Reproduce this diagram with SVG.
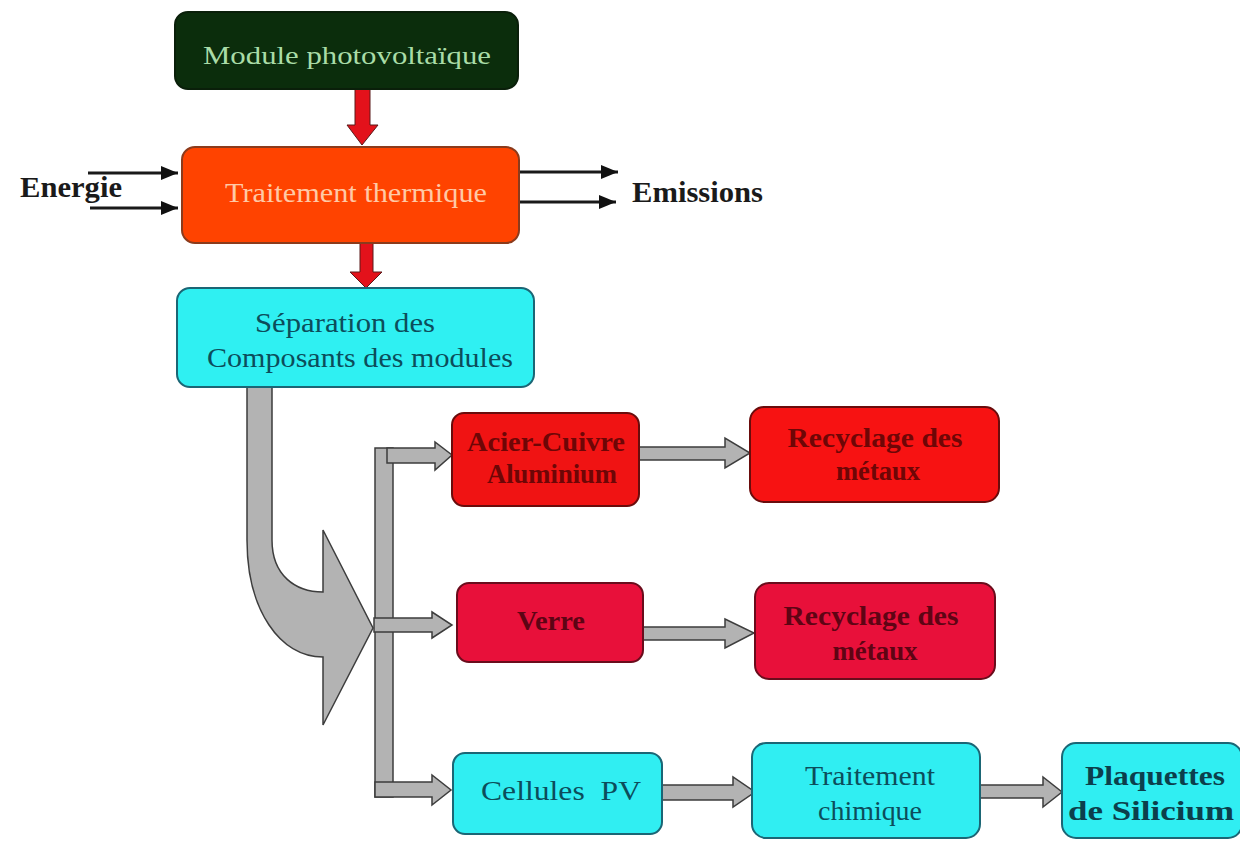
<svg xmlns="http://www.w3.org/2000/svg" width="1240" height="841" viewBox="0 0 1240 841">
<style>
.box{stroke-width:2}
.t{font-family:"Liberation Serif","Times New Roman",serif;text-anchor:middle}
.b{font-weight:bold}
.gray{fill:#b3b3b3;stroke:#3d3d3d;stroke-width:1.5;stroke-linejoin:miter}
.redarr{fill:#e3121b;stroke:#5a1a1a;stroke-width:1}
.blk{stroke:#1a1a1a;stroke-width:3;fill:none}
</style>
<defs>
<marker id="ah" markerUnits="userSpaceOnUse" markerWidth="18" markerHeight="16" refX="17" refY="8" orient="auto">
<path d="M0,1 L17,8 L0,15 Z" fill="#111"/>
</marker>
</defs>
<rect width="1240" height="841" fill="#ffffff"/>

<g id="connectors">
<polygon class="redarr" points="355,89 370,89 370,125 378,125 362,145 347,125 355,125"/>
<polygon class="redarr" points="360,243 373,243 373,272 382,272 366,288 350,272 360,272"/>
<line class="blk" x1="88" y1="173" x2="178" y2="173" marker-end="url(#ah)"/>
<line class="blk" x1="90" y1="208" x2="178" y2="208" marker-end="url(#ah)"/>
<line class="blk" x1="519" y1="172" x2="618" y2="172" marker-end="url(#ah)"/>
<line class="blk" x1="519" y1="202" x2="616" y2="202" marker-end="url(#ah)"/>
<path class="gray" d="M247,387 L247,540 C247,610 280,657 323,657 L323,725 L373,628 L323,530 L323,592 C295,592 272,575 272,540 L272,387 Z"/>
<rect class="gray" x="375" y="448" width="18" height="349"/>
<polygon class="gray" points="387,448 435,448 435,442 452,455 435,470 435,463 387,463"/>
<polygon class="gray" points="374,618 432,618 432,612 452,625 432,638 432,632 374,632"/>
<polygon class="gray" points="375,782 432,782 432,775 451,790 432,805 432,797 375,797"/>
<polygon class="gray" points="639,447 725,447 725,438 750,453 725,468 725,460 639,460"/>
<polygon class="gray" points="643,627 725,627 725,619 754,633 725,648 725,640 643,640"/>
<polygon class="gray" points="662,785 733,785 733,777 755,792 733,807 733,800 662,800"/>
<polygon class="gray" points="980,785 1043,785 1043,777 1062,792 1043,807 1043,798 980,798"/>
</g>

<g id="module">
<rect class="box" x="175" y="12" width="343" height="77" rx="13" fill="#0b2d0c" stroke="#0a1f0a"/>
<text class="t" x="347" y="64" font-size="26" fill="#a9dca7" textLength="288" lengthAdjust="spacingAndGlyphs">Module photovoltaïque</text>
</g>

<g id="traitement-thermique">
<rect class="box" x="182" y="147" width="337" height="96" rx="13" fill="#ff4300" stroke="#8b3b1c"/>
<text class="t" x="356" y="202" font-size="27" fill="#ffc9a6" textLength="262" lengthAdjust="spacingAndGlyphs">Traitement thermique</text>
</g>

<g id="energie">
<text x="20" y="197" font-family="Liberation Serif, Times New Roman, serif" font-weight="bold" font-size="29" fill="#1a1a1a" textLength="102" lengthAdjust="spacingAndGlyphs">Energie</text>
</g>

<g id="emissions">
<text x="632" y="202" font-family="Liberation Serif, Times New Roman, serif" font-weight="bold" font-size="29" fill="#1a1a1a" textLength="131" lengthAdjust="spacingAndGlyphs">Emissions</text>
</g>

<g id="separation">
<rect class="box" x="177" y="288" width="357" height="99" rx="13" fill="#2ff0f2" stroke="#1b6675"/>
<text class="t" x="345" y="332" font-size="28" fill="#0c4d5b" textLength="180" lengthAdjust="spacingAndGlyphs">Séparation des</text>
<text class="t" x="360" y="367" font-size="28" fill="#0c4d5b" textLength="306" lengthAdjust="spacingAndGlyphs">Composants des modules</text>
</g>

<g id="acier">
<rect class="box" x="452" y="413" width="187" height="93" rx="12" fill="#f01313" stroke="#6a0c0c"/>
<text class="t b" x="546" y="451" font-size="27" fill="#6e0606" textLength="158" lengthAdjust="spacingAndGlyphs">Acier-Cuivre</text>
<text class="t b" x="552" y="483" font-size="27" fill="#6e0606" textLength="130" lengthAdjust="spacingAndGlyphs">Aluminium</text>
</g>

<g id="recyclage1">
<rect class="box" x="750" y="407" width="249" height="95" rx="14" fill="#f71212" stroke="#6a0c0c"/>
<text class="t b" x="875" y="447" font-size="27" fill="#6e0606" textLength="175" lengthAdjust="spacingAndGlyphs">Recyclage des</text>
<text class="t b" x="878" y="480" font-size="27" fill="#6e0606" textLength="84" lengthAdjust="spacingAndGlyphs">métaux</text>
</g>

<g id="verre">
<rect class="box" x="457" y="583" width="186" height="79" rx="12" fill="#e8103a" stroke="#6a0c1c"/>
<text class="t b" x="551" y="630" font-size="27" fill="#5e0414" textLength="68" lengthAdjust="spacingAndGlyphs">Verre</text>
</g>

<g id="recyclage2">
<rect class="box" x="755" y="583" width="240" height="96" rx="14" fill="#e8103a" stroke="#6a0c1c"/>
<text class="t b" x="871" y="625" font-size="27" fill="#5e0414" textLength="175" lengthAdjust="spacingAndGlyphs">Recyclage des</text>
<text class="t b" x="875" y="660" font-size="27" fill="#5e0414" textLength="85" lengthAdjust="spacingAndGlyphs">métaux</text>
</g>

<g id="cellules">
<rect class="box" x="453" y="753" width="209" height="81" rx="12" fill="#30eef2" stroke="#1b6675"/>
<text class="t" x="561" y="800" font-size="28" fill="#0c4d5b" textLength="160" lengthAdjust="spacingAndGlyphs" xml:space="preserve">Cellules  PV</text>
</g>

<g id="traitement-chimique">
<rect class="box" x="752" y="743" width="228" height="95" rx="14" fill="#30eef2" stroke="#1b6675"/>
<text class="t" x="870" y="785" font-size="27" fill="#0c4d5b" textLength="130" lengthAdjust="spacingAndGlyphs">Traitement</text>
<text class="t" x="870" y="820" font-size="27" fill="#0c4d5b" textLength="104" lengthAdjust="spacingAndGlyphs">chimique</text>
</g>

<g id="plaquettes">
<rect class="box" x="1062" y="743" width="180" height="95" rx="14" fill="#30eef2" stroke="#1b6675"/>
<text class="t b" x="1155" y="785" font-size="27" fill="#0c3f4c" textLength="140" lengthAdjust="spacingAndGlyphs">Plaquettes</text>
<text class="t b" x="1151" y="820" font-size="27" fill="#0c3f4c" textLength="166" lengthAdjust="spacingAndGlyphs">de Silicium</text>
</g>
</svg>
